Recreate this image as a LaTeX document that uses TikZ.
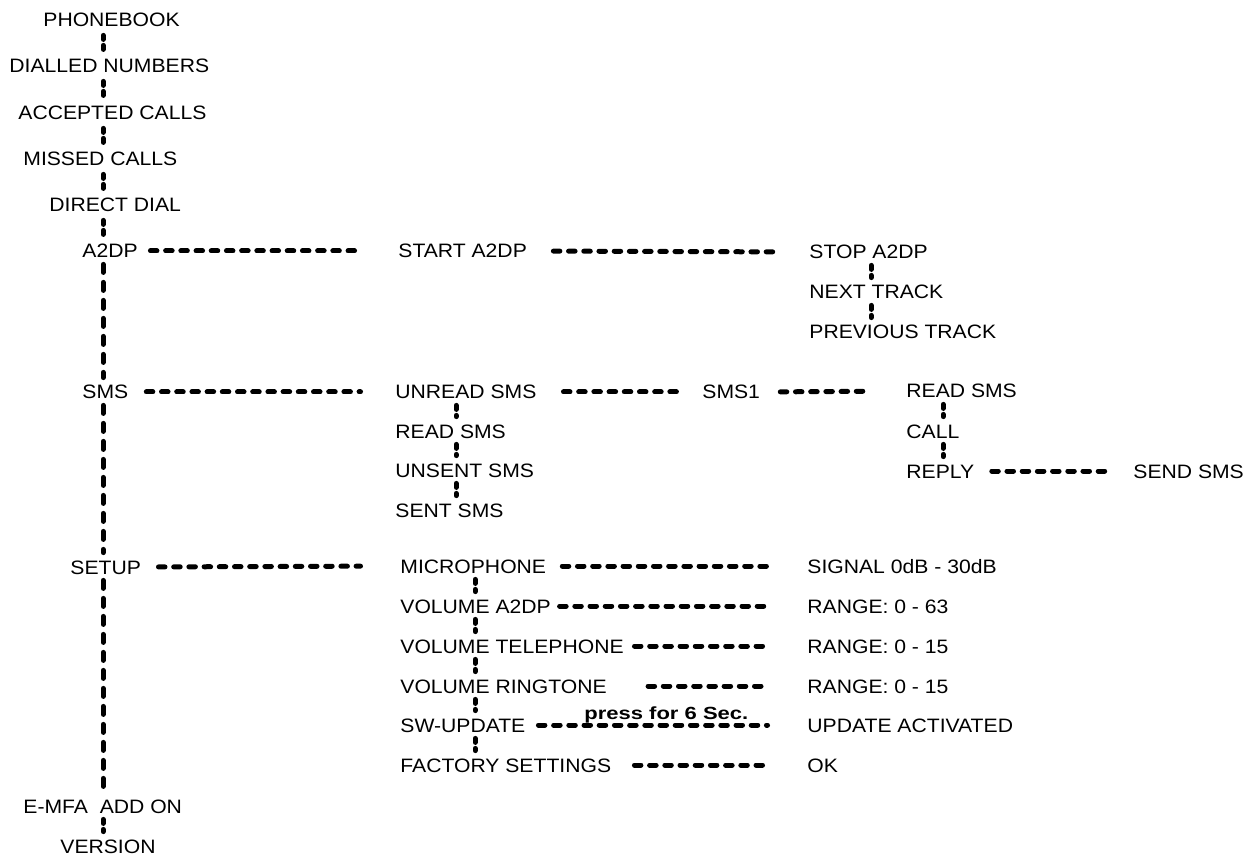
\documentclass[tikz,border=0pt]{standalone}
\usepackage{fontspec}
\setmainfont{Liberation Sans}[FakeStretch=1.09]
\newfontfamily\pressfont{Liberation Sans}[FakeStretch=1.25]
\usetikzlibrary{calc}

\begin{document}
\begin{tikzpicture}[x=0.5pt, y=-0.5pt,
        menu/.style={anchor=west, inner sep=0pt, text height=7pt, text depth=0pt,
          font=\fontsize{9.7}{11}\selectfont},
        hlink/.style={line width=2.5pt, line cap=round, dash pattern=on 3.25pt off 4.35pt},
        vlink/.style={line width=2.5pt, line cap=round, dash pattern=on 2pt off 3pt,
          shorten <=3pt, shorten >=3.5pt},
        vspine/.style={vlink, dash pattern=on 4pt off 5pt}]
        \useasboundingbox (0,0) rectangle (1247,855);
        \coordinate (spine) at (103,0);
        \coordinate (smsline) at (456,0);
        \coordinate (setline) at (475,0);
        \coordinate (trackline) at (871,0);
        \coordinate (replyline) at (943,0);

        \node[menu] (pb) at (43,20) {PHONEBOOK};
        \node[menu] (dn) at (9,66) {DIALLED NUMBERS};
        \node[menu] (ac) at (18,113) {ACCEPTED CALLS};
        \node[menu] (mc) at (23,159) {MISSED CALLS};
        \node[menu] (dd) at (49,205) {DIRECT DIAL};
        \node[menu] (a2dp) at (82,251) {A2DP};
        \node[menu] (sms) at (82,392) {SMS};
        \node[menu] (setup) at (70,567) {SETUP};
        \node[menu] (emfa) at (23,806) {E-MFA\ \ ADD ON};
        \node[menu] (version) at (60,846) {VERSION};

        \node[menu] (starta) at (398,251) {START A2DP};
        \node[menu] (stopa) at (809,252) {STOP A2DP};
        \node[menu] (next) at (809,292) {NEXT TRACK};
        \node[menu] (prev) at (809,332) {PREVIOUS TRACK};

        \node[menu] (unread) at (395,392) {UNREAD SMS};
        \node[menu] (readl) at (395,431) {READ SMS};
        \node[menu] (unsent) at (395,470) {UNSENT SMS};
        \node[menu] (sent) at (395,510) {SENT SMS};
        \node[menu] (smsone) at (702,392) {SMS1};
        \node[menu] (readr) at (906,391) {READ SMS};
        \node[menu] (call) at (906,431) {CALL};
        \node[menu] (reply) at (906,471) {REPLY};
        \node[menu] (send) at (1133,471) {SEND SMS};

        \node[menu] (micro) at (400,566) {MICROPHONE};
        \node[menu] (vola) at (400,606) {VOLUME A2DP};
        \node[menu] (voltel) at (400,646) {VOLUME TELEPHONE};
        \node[menu] (volring) at (400,686) {VOLUME RINGTONE};
        \node[menu] (swup) at (400,725) {SW-UPDATE};
        \node[menu] (factory) at (400,765) {FACTORY SETTINGS};
        \node[menu] (signal) at (807,566) {SIGNAL 0dB - 30dB};
        \node[menu] (rnga) at (807,606) {RANGE: 0 - 63};
        \node[menu] (rngb) at (807,646) {RANGE: 0 - 15};
        \node[menu] (rngc) at (807,686) {RANGE: 0 - 15};
        \node[menu] (updact) at (807,725) {UPDATE ACTIVATED};
        \node[menu] (ok) at (807,765) {OK};

        \foreach \a/\b in {pb/dn, dn/ac, ac/mc, mc/dd, dd/a2dp} {
          \draw[vlink, shorten <=4pt, shorten >=4pt] (\a.south -| spine) -- (\b.north -| spine);
        };
        \foreach \a/\b/\x in {emfa/version/spine,
            unread/readl/smsline, readl/unsent/smsline, unsent/sent/smsline,
            micro/vola/setline, vola/voltel/setline, voltel/volring/setline,
            volring/swup/setline, swup/factory/setline,
            stopa/next/trackline, next/prev/trackline,
            readr/call/replyline, call/reply/replyline} {
          \draw[vlink] (\a.south -| \x) -- (\b.north -| \x);
        };
        \foreach \a/\b in {a2dp/sms, sms/setup, setup/emfa} {
          \draw[vspine] (\a.south -| spine) -- (\b.north -| spine);
        };
        \foreach \a/\b/\s/\e in {a2dp/starta/6.2pt/18.75pt, starta/stopa/13.05pt/16.75pt,
            sms/unread/8.85pt/17.25pt, unread/smsone/13.35pt/9.75pt, smsone/readr/9.95pt/17.75pt,
            reply/send/8.6pt/13.75pt, setup/micro/8.6pt/19.75pt, micro/signal/7.9pt/19.75pt,
            vola/rnga/4.2pt/19.75pt, voltel/rngb/5.2pt/19.75pt, volring/rngc/20.45pt/19.75pt,
            factory/ok/11.45pt/19.75pt} {
          \draw[hlink, shorten <=\s, shorten >=\e] (\a.east) -- (\b.west);
        };
        \draw[hlink, shorten <=6.35pt, shorten >=19.75pt] (swup.east) -- (updact.west)
          node[midway, anchor=base, yshift=3pt, font=\pressfont\bfseries\fontsize{8.8}{10}\selectfont] (press) {press for 6 Sec.};
      \end{tikzpicture}
\end{document}
